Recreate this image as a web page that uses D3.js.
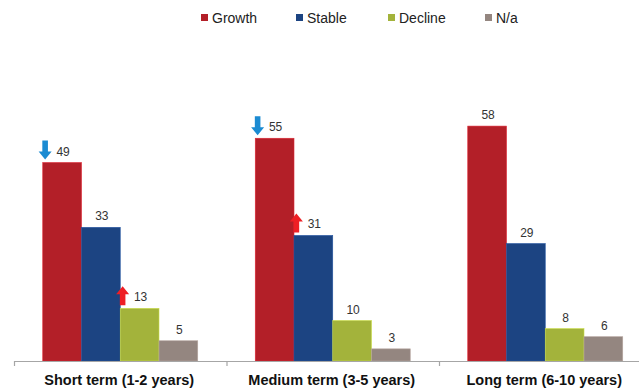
<!DOCTYPE html>
<html>
<head>
<meta charset="utf-8">
<script src="https://cdn.jsdelivr.net/npm/d3@7"></script>
<style>
  body { margin: 0; background: #fff; }
  svg { display: block; font-family: "Liberation Sans", Arial, sans-serif; }
</style>
</head>
<body>
<svg id="chart" width="639" height="388"></svg>
<script>
var categories = ["Short term (1-2 years)", "Medium term (3-5 years)", "Long term (6-10 years)"];
var seriesNames = ["Growth", "Stable", "Decline", "N/a"];
var growth = [49, 55, 58];
var stable = [33, 31, 29];
var decline = [13, 10, 8];
var na = [5, 3, 6];
// arrows drawn next to some value labels: [category index, series index, direction]
var arrows = [[0, 0, "down"], [0, 2, "up"], [1, 0, "down"], [1, 1, "up"]];

var colors = ["#b31f28", "#1c4482", "#a3b33b", "#948680"];
var values = [growth, stable, decline, na];

var svg = d3.select("#chart");

var x0 = d3.scaleBand().domain(d3.range(categories.length)).range([14, 651.5]).padding(0);
var x1 = d3.scaleBand().domain(d3.range(seriesNames.length))
  .range([28.75, 28.75 + 155]).padding(0);
var y = d3.scaleLinear().domain([0, 60]).range([361, 118]);

var groups = svg.selectAll("g.group")
  .data(categories)
  .enter()
  .append("g")
  .attr("class", "group")
  .attr("transform", function (d, i) { return "translate(" + x0(i) + ",0)"; });

groups.selectAll("rect")
  .data(function (d, i) { return values.map(function (s, j) { return { s: j, v: s[i] }; }); })
  .enter()
  .append("rect")
  .attr("x", function (d) { return x1(d.s); })
  .attr("y", function (d) { return y(d.v); })
  .attr("width", x1.bandwidth())
  .attr("height", function (d) { return y(0) - y(d.v); })
  .attr("fill", function (d) { return colors[d.s]; })
  .attr("stroke", function (d) { return d3.color(colors[d.s]).brighter(0.6); })
  .attr("stroke-width", 0.6);

groups.selectAll("text.val")
  .data(function (d, i) { return values.map(function (s, j) { return { s: j, v: s[i] }; }); })
  .enter()
  .append("text")
  .attr("class", "val")
  .attr("x", function (d) { return x1(d.s) + x1.bandwidth() / 2 + 1; })
  .attr("y", function (d) { return y(d.v) - 7; })
  .attr("text-anchor", "middle")
  .attr("font-size", "12px")
  .attr("fill", "#333")
  .text(function (d) { return d.v; });

// little trend arrows
arrows.forEach(function (a) {
  var v = values[a[1]][a[0]];
  var cx = x0(a[0]) + x1(a[1]) + x1.bandwidth() / 2 - 17;
  var yb = y(v) - 3;      // bottom of arrow area
  var h = 19, sw = 2.8, hw = 6.5, hh = 8;
  var pts;
  if (a[2] === "down") {
    pts = [[cx - sw, yb - h], [cx + sw, yb - h], [cx + sw, yb - hh], [cx + hw, yb - hh],
           [cx, yb], [cx - hw, yb - hh], [cx - sw, yb - hh]];
  } else {
    pts = [[cx - sw, yb], [cx + sw, yb], [cx + sw, yb - h + hh], [cx + hw, yb - h + hh],
           [cx, yb - h], [cx - hw, yb - h + hh], [cx - sw, yb - h + hh]];
  }
  svg.append("polygon")
    .attr("points", pts.map(function (p) { return p.join(","); }).join(" "))
    .attr("fill", a[2] === "down" ? "#1b8bd2" : "#ee1f25");
});

// axis line and category ticks
var axisG = svg.append("g").attr("transform", "translate(0,361)");
axisG.append("line")
  .attr("x1", 14).attr("x2", 639).attr("y1", 0.5).attr("y2", 0.5)
  .attr("stroke", "#a6a6a6").attr("stroke-width", 1.2);
axisG.selectAll("line.tick")
  .data(d3.range(categories.length))
  .enter()
  .append("line")
  .attr("class", "tick")
  .attr("x1", function (d) { return x0(d) + 0.5; })
  .attr("x2", function (d) { return x0(d) + 0.5; })
  .attr("y1", 0).attr("y2", 5)
  .attr("stroke", "#a6a6a6").attr("stroke-width", 1.2);

svg.selectAll("text.cat")
  .data(categories)
  .enter()
  .append("text")
  .attr("class", "cat")
  .attr("x", function (d, i) { return x0(i) + x0.bandwidth() / 2 - 1; })
  .attr("y", 385)
  .attr("text-anchor", "middle")
  .attr("font-size", "14.5px")
  .attr("font-weight", "bold")
  .attr("fill", "#111")
  .text(function (d) { return d; });

// legend
var legendX = [201, 296, 388, 485];
var legend = svg.selectAll("g.leg")
  .data(seriesNames)
  .enter()
  .append("g")
  .attr("class", "leg")
  .attr("transform", function (d, i) { return "translate(" + legendX[i] + ",0)"; });
legend.append("rect")
  .attr("x", 0).attr("y", 14)
  .attr("width", 7).attr("height", 7)
  .attr("fill", function (d, i) { return colors[i]; });
legend.append("text")
  .attr("x", 11).attr("y", 23)
  .attr("font-size", "14px")
  .attr("fill", "#222")
  .text(function (d) { return d; });
</script>
</body>
</html>
